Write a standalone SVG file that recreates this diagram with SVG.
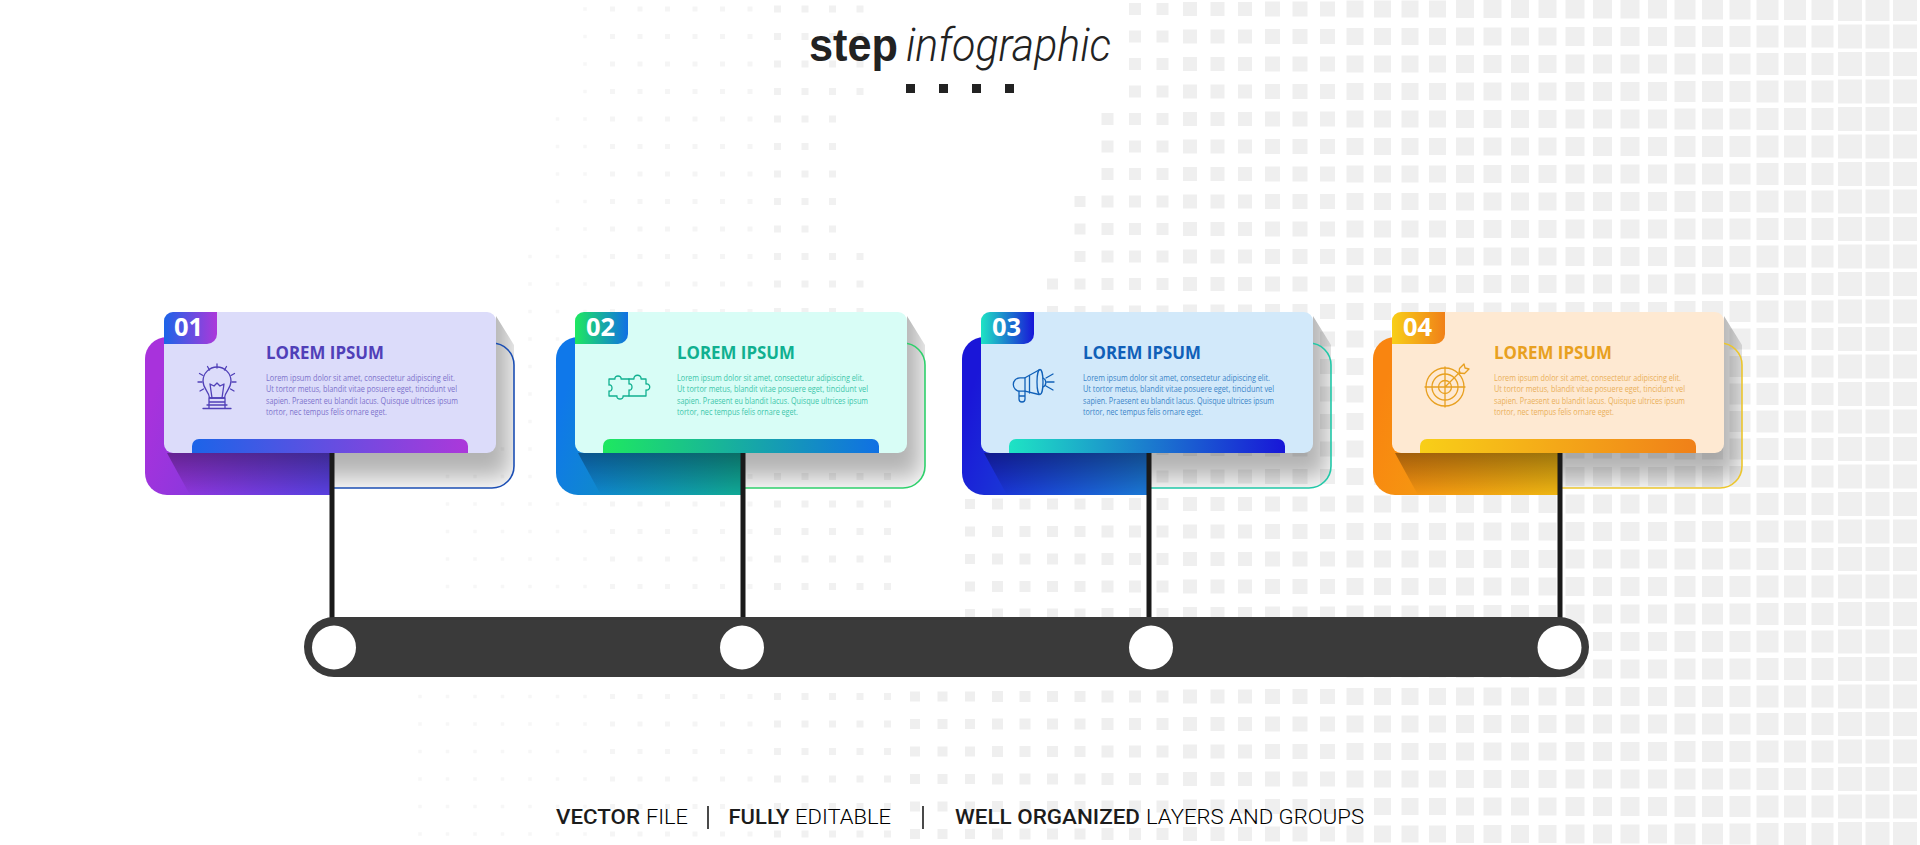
<svg xmlns="http://www.w3.org/2000/svg" width="1920" height="845" viewBox="0 0 1920 845">
<style>
.g{fill:none;stroke:#efefef}
.f7{fill:none;stroke:#f1f1f1;stroke-width:7;stroke-dasharray:7 20.5}
.f5{fill:none;stroke:#f5f5f5;stroke-width:5;stroke-dasharray:5 22.5}
.f3{fill:none;stroke:#f7f7f7;stroke-width:3.5;stroke-dasharray:3.5 24}
.title{font:700 18.5px "Open Sans","Noto Sans",sans-serif;fill:currentColor}
.body{font:400 9.5px "Open Sans","Noto Sans",sans-serif}
.num{font:700 25.5px "Open Sans","Noto Sans",sans-serif;fill:#fff}
.ic{fill:none;stroke:currentColor;stroke-width:1.3;stroke-linejoin:round;stroke-linecap:round}
.stem{stroke:#1a1a1a;stroke-width:5}
.bold{font:500 21px Roboto,"Liberation Sans",sans-serif;fill:#1c1c1c}
.light{font:300 21px Roboto,"Liberation Sans",sans-serif;fill:#000}
.sep{stroke:#1c1c1c;stroke-width:1.6}
.sq{fill:#222}
.hole{fill:#fff}
</style>
<defs>
<linearGradient id="b1" x1="0" y1="0.5" x2="1" y2="0.8"><stop offset="0" stop-color="#a832dc"/><stop offset="1" stop-color="#5a40e0"/></linearGradient>
<linearGradient id="b2" x1="0" y1="0.5" x2="1" y2="0.8"><stop offset="0" stop-color="#0f78ea"/><stop offset="1" stop-color="#10a898"/></linearGradient>
<linearGradient id="b3" x1="0" y1="0.5" x2="1" y2="0.8"><stop offset="0" stop-color="#1a16d8"/><stop offset="1" stop-color="#1a74d4"/></linearGradient>
<linearGradient id="b4" x1="0" y1="0.5" x2="1" y2="0.8"><stop offset="0" stop-color="#f98510"/><stop offset="1" stop-color="#efb412"/></linearGradient>
<linearGradient id="t1"><stop offset="0" stop-color="#1c64e8"/><stop offset="1" stop-color="#ac38da"/></linearGradient>
<linearGradient id="t2"><stop offset="0" stop-color="#1ee860"/><stop offset="1" stop-color="#1070e4"/></linearGradient>
<linearGradient id="t3"><stop offset="0" stop-color="#1ee4c4"/><stop offset="1" stop-color="#1816d8"/></linearGradient>
<linearGradient id="t4"><stop offset="0" stop-color="#f8cf18"/><stop offset="1" stop-color="#f08018"/></linearGradient>
<linearGradient id="sb2" x1="0" y1="0" x2="0" y2="1"><stop offset="0" stop-color="#000" stop-opacity=".34"/><stop offset="1" stop-color="#000" stop-opacity="0"/></linearGradient>
<filter id="soft" x="-20%" y="-20%" width="140%" height="140%"><feGaussianBlur stdDeviation="12"/></filter>
<clipPath id="shadowClip"><path d="M496 316 L514 345 V466 A22 22 0 0 1 492 488 H331 V440 H496 Z"/></clipPath>
<g id="castShadow" clip-path="url(#shadowClip)"><rect x="260" y="290" width="250" height="188" fill="#000" opacity=".3" filter="url(#soft)"/></g>
<path id="shadowL" d="M167 453 H331 V495 H190 Z"/>
<path id="backShape" d="M331 495 H167 A22 22 0 0 1 145 473 V359 A22 22 0 0 1 167 337 H331 Z"/>
<path id="outline" d="M496 343 H492 A22 22 0 0 1 514 365 V466 A22 22 0 0 1 492 488 H332" fill="none" stroke-width="1.6"/>
<path id="tabShape" d="M173 312 H217 V334 A10 10 0 0 1 207 344 H164 V321 A9 9 0 0 1 173 312 Z"/>
<path id="barShape" d="M192 453 V446 A7 7 0 0 1 199 439 H461 A7 7 0 0 1 468 446 V453 Z"/>
</defs>

<rect width="1920" height="845" fill="#fff"/>
<g id="background-grid">
<path class="g" stroke-width="24" stroke-dasharray="24 3.5" d="M1850-3V850M1877.5-3V850M1905-3V850"/>
<path class="g" stroke-width="22" stroke-dasharray="22 5.5" d="M1767.5-2V850M1795-2V850M1822.5-2V850"/>
<path class="g" stroke-width="21" stroke-dasharray="21 6.5" d="M1685-1.5V850M1712.5-1.5V850M1740-1.5V850"/>
<path class="g" stroke-width="19" stroke-dasharray="19 8.5" d="M1575-.5V850M1602.5-.5V850M1630-.5V850M1657.5-.5V850"/>
<path class="g" stroke-width="18" stroke-dasharray="18 9.5" d="M1465 0V850M1492.5 0V850M1520 0V850M1547.5 0V850"/>
<path class="g" stroke-width="17" stroke-dasharray="17 10.5" d="M1355 .5V850M1382.5 .5V850M1410 .5V850M1437.5 .5V850"/>
<path class="g" stroke-width="15" stroke-dasharray="15 12.5" d="M1272.5 1.5V850M1300 1.5V850M1327.5 1.5V850"/>
<path class="g" stroke-width="14" stroke-dasharray="14 13.5" d="M1190 2V850M1217.5 2V850M1245 2V850"/>
<path class="g" stroke-width="12" stroke-dasharray="12 15.5" d="M1135 3V850M1162.5 3V850M1107.5 113V850"/>
<path class="g" stroke-width="11" stroke-dasharray="11 16.5" d="M1080 196V850M1052.5 278.5V850M1025 333.5V850M997.5 333.5V850"/>
<path class="g" stroke-width="10" stroke-dasharray="10 17.5" d="M970 444V850M942.5 691.5V850M915 691.5V850"/>
<path class="f7" d="M887.5 445.5V590M887.5 693V838M860 5.5V95M860 253V590M860 693V838M832.5 5.5V590M832.5 693V838M805 5.5V590M805 693V838M777.5 5.5V590M777.5 693V838"/>
<path class="f5" d="M750 6.5V589M750 694V837M722.5 6.5V589M722.5 694V837M695 6.5V589M695 694V837M667.5 6.5V589M667.5 694V837M640 6.5V589M640 694V837M612.5 6.5V589M612.5 694V837"/>
<path class="f3" d="M585 7.25V589M585 694.75V837M557.5 117.25V589M557.5 694.75V837M530 254.75V589M530 694.75V837M502.5 447.25V589M502.5 694.75V837M475 447.25V589M475 694.75V837M447.5 447.25V589M447.5 694.75V837M420 694.75V837"/>
</g>

<g id="heading">
<text x="809" y="61" font-family="'Liberation Sans',sans-serif" font-weight="700" font-size="46" fill="#222" textLength="89" lengthAdjust="spacingAndGlyphs">step</text>
<text x="906" y="61" font-family="Roboto,'Liberation Sans',sans-serif" font-weight="300" font-style="italic" font-size="46" fill="#222" textLength="205" lengthAdjust="spacingAndGlyphs">infographic</text>
<rect class="sq" x="906" y="84" width="9" height="9"/>
<rect class="sq" x="939" y="84" width="9" height="9"/>
<rect class="sq" x="972" y="84" width="9" height="9"/>
<rect class="sq" x="1005" y="84" width="9" height="9"/>
</g>

<g id="step-01" style="color:#5040b8">
<use href="#castShadow"/>
<use href="#outline" stroke="#1c4fb4"/>
<use href="#backShape" fill="url(#b1)"/><use href="#shadowL" fill="url(#sb2)"/>
<rect x="164" y="312" width="332" height="141" rx="9" fill="#dcdcfa"/>
<use href="#barShape" fill="url(#t1)"/><use href="#tabShape" fill="url(#t1)"/>
<text class="num" x="174" y="336">01</text>
<text class="title" x="266" y="359" textLength="118" lengthAdjust="spacingAndGlyphs">LOREM IPSUM</text>
<g class="body" fill="#7d73cc">
<text x="266" y="381" textLength="189" lengthAdjust="spacingAndGlyphs">Lorem ipsum dolor sit amet, consectetur adipiscing elit.</text>
<text x="266" y="392" textLength="191" lengthAdjust="spacingAndGlyphs">Ut tortor metus, blandit vitae posuere eget, tincidunt vel</text>
<text x="266" y="403.5" textLength="192" lengthAdjust="spacingAndGlyphs">sapien. Praesent eu blandit lacus. Quisque ultrices ipsum</text>
<text x="266" y="415" textLength="121" lengthAdjust="spacingAndGlyphs">tortor, nec tempus felis ornare eget.</text>
</g>
<g class="ic">
<path d="M209.5 398C209 391 203 389 203 381A14 14 0 0 1 231 381C231 389 225 391 224.5 398Z"/>
<path d="M212 398L210 384L214 386L217 383L220 386L224 384L222 398"/>
<path d="M209 398H225M209 402H225V398M209 402V398M207 405H227M203 408.5H231M209 402V408M225 402V408"/>
<path d="M217 364V368M207.500 366.500L209.500 370M226.500 366.500L224.500 370M199.500 373.500L203 375.500M234.500 373.500L231 375.500M198 382H202M232 382H236M200 391L203.500 389M234 391L230.500 389"/>
</g>
</g>

<g id="step-02" style="color:#10b090">
<g transform="translate(411 0)">
<use href="#castShadow"/>
<use href="#outline" stroke="#2fd06c"/>
<use href="#backShape" fill="url(#b2)"/><use href="#shadowL" fill="url(#sb2)"/>
<rect x="164" y="312" width="332" height="141" rx="9" fill="#d8fdf6"/>
<use href="#barShape" fill="url(#t2)"/><use href="#tabShape" fill="url(#t2)"/>
<text class="num" x="175" y="336">02</text>
<text class="title" x="266" y="359" textLength="118" lengthAdjust="spacingAndGlyphs">LOREM IPSUM</text>
<g class="body" fill="#3cc6aa">
<text x="266" y="381" textLength="187" lengthAdjust="spacingAndGlyphs">Lorem ipsum dolor sit amet, consectetur adipiscing elit.</text>
<text x="266" y="392" textLength="191" lengthAdjust="spacingAndGlyphs">Ut tortor metus, blandit vitae posuere eget, tincidunt vel</text>
<text x="266" y="403.5" textLength="191" lengthAdjust="spacingAndGlyphs">sapien. Praesent eu blandit lacus. Quisque ultrices ipsum</text>
<text x="266" y="415" textLength="121" lengthAdjust="spacingAndGlyphs">tortor, nec tempus felis ornare eget.</text>
</g>
<g class="ic">
<path d="M198 379h6c-1-4 7-4 6 0h8v5c4-1 4 7 0 6v6h-6c1 4-7 4-6 0h-8v-5c4 1 4-7 0-6z"/>
<path d="M218 379h5c-1-5 8-5 7 0h5v5c5-1 5 7 0 6v6h-17"/>
</g>
</g>
</g>

<g id="step-03" style="color:#1060b8">
<g transform="translate(817 0)">
<use href="#castShadow"/>
<use href="#outline" stroke="#22c8a8"/>
<use href="#backShape" fill="url(#b3)"/><use href="#shadowL" fill="url(#sb2)"/>
<rect x="164" y="312" width="332" height="141" rx="9" fill="#d2e9fa"/>
<use href="#barShape" fill="url(#t3)"/><use href="#tabShape" fill="url(#t3)"/>
<text class="num" x="175" y="336">03</text>
<text class="title" x="266" y="359" textLength="118" lengthAdjust="spacingAndGlyphs">LOREM IPSUM</text>
<g class="body" fill="#3b85c8">
<text x="266" y="381" textLength="187" lengthAdjust="spacingAndGlyphs">Lorem ipsum dolor sit amet, consectetur adipiscing elit.</text>
<text x="266" y="392" textLength="191" lengthAdjust="spacingAndGlyphs">Ut tortor metus, blandit vitae posuere eget, tincidunt vel</text>
<text x="266" y="403.5" textLength="191" lengthAdjust="spacingAndGlyphs">sapien. Praesent eu blandit lacus. Quisque ultrices ipsum</text>
<text x="266" y="415" textLength="120" lengthAdjust="spacingAndGlyphs">tortor, nec tempus felis ornare eget.</text>
</g>
<g class="ic" stroke-width="1.6">
<ellipse cx="223" cy="382" rx="3" ry="12.500"/>
<path d="M222 370L208 377.800H203A6.700 6.700 0 0 0 203 391.200H208L222 394.500"/>
<path d="M208 377.800V391.200M212.500 375.500V393"/>
<path d="M202 391.500V399A3 3 0 0 0 208 399V391.500M202 396H208"/>
<path d="M226 378A5 5 0 0 1 226 387M229 378L236 374M230 382H237M229 386L236 390"/>
</g>
</g>
</g>

<g id="step-04" style="color:#e8a020">
<g transform="translate(1228 0)">
<use href="#castShadow"/>
<use href="#outline" stroke="#ecc62e"/>
<use href="#backShape" fill="url(#b4)"/><use href="#shadowL" fill="url(#sb2)"/>
<rect x="164" y="312" width="332" height="141" rx="9" fill="#fee9d2"/>
<use href="#barShape" fill="url(#t4)"/><use href="#tabShape" fill="url(#t4)"/>
<text class="num" x="175" y="336">04</text>
<text class="title" x="266" y="359" textLength="118" lengthAdjust="spacingAndGlyphs">LOREM IPSUM</text>
<g class="body" fill="#eab05a">
<text x="266" y="381" textLength="187" lengthAdjust="spacingAndGlyphs">Lorem ipsum dolor sit amet, consectetur adipiscing elit.</text>
<text x="266" y="392" textLength="191" lengthAdjust="spacingAndGlyphs">Ut tortor metus, blandit vitae posuere eget, tincidunt vel</text>
<text x="266" y="403.5" textLength="191" lengthAdjust="spacingAndGlyphs">sapien. Praesent eu blandit lacus. Quisque ultrices ipsum</text>
<text x="266" y="415" textLength="120" lengthAdjust="spacingAndGlyphs">tortor, nec tempus felis ornare eget.</text>
</g>
<g class="ic">
<circle cx="217" cy="387" r="19"/><circle cx="217" cy="387" r="13"/><circle cx="217" cy="387" r="6.500"/>
<path d="M197 387H237M217 367V407M217.500 386.500L232 372M231 373L231.500 368.500L236 364L237 368L241 369L236.500 373.500Z"/>
</g>
</g>
</g>

<g id="connectors">
<line class="stem" x1="332" y1="453" x2="332" y2="625"/>
<line class="stem" x1="743" y1="453" x2="743" y2="625"/>
<line class="stem" x1="1149" y1="453" x2="1149" y2="625"/>
<line class="stem" x1="1560" y1="453" x2="1560" y2="625"/>
</g>

<g id="timeline">
<rect x="304" y="617" width="1285" height="60" rx="30" fill="#3a3a3a"/>
<circle class="hole" cx="334" cy="647.500" r="22"/>
<circle class="hole" cx="742" cy="647.500" r="22"/>
<circle class="hole" cx="1151" cy="647.500" r="22"/>
<circle class="hole" cx="1559.500" cy="647.500" r="22"/>
</g>

<g id="footer">
<text class="bold" x="556" y="824" textLength="84" lengthAdjust="spacingAndGlyphs">VECTOR</text>
<text class="light" x="646" y="824" textLength="42" lengthAdjust="spacingAndGlyphs">FILE</text>
<line class="sep" x1="708" y1="806" x2="708" y2="829"/>
<text class="bold" x="728.500" y="824" textLength="61" lengthAdjust="spacingAndGlyphs">FULLY</text>
<text class="light" x="795" y="824" textLength="96" lengthAdjust="spacingAndGlyphs">EDITABLE</text>
<line class="sep" x1="923" y1="806" x2="923" y2="829"/>
<text class="bold" x="955" y="824" textLength="185" lengthAdjust="spacingAndGlyphs">WELL ORGANIZED</text>
<text class="light" x="1146" y="824" textLength="218" lengthAdjust="spacingAndGlyphs">LAYERS AND GROUPS</text>
</g>
</svg>
